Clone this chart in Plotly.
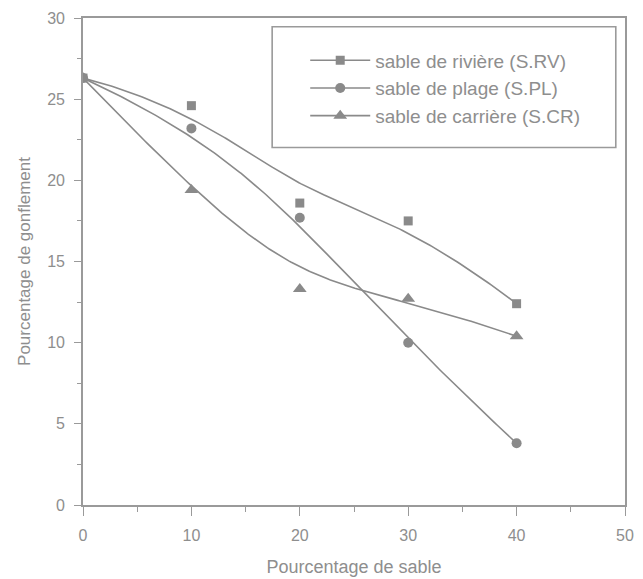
import numpy as np
import plotly.graph_objects as go

# Pourcentage de sable (%)
sable = [0, 10, 20, 30, 40]

# Pourcentage de gonflement par type de sable
riviere = [26.3, 24.6, 18.6, 17.5, 12.4]
plage = [26.3, 23.2, 17.7, 10.0, 3.8]
carriere = [26.3, 19.4, 13.3, 12.7, 10.4]

noms = ["sable de rivière (S.RV)", "sable de plage (S.PL)", "sable de carrière (S.CR)"]
symboles = ["square", "circle", "triangle-up"]
tailles = [9, 10, 12]

GRIS = "#8a8a8a"
TEXTE = "#8e8e8e"
POLICE = "Liberation Sans, Arial, sans-serif"


def bspline(xs, ys, n=200, k=3):
    """Clamped uniform B-spline using the data points as control points."""
    P = np.column_stack([xs, ys]).astype(float)
    m = len(P)
    interior = np.linspace(0, 1, m - k + 1)[1:-1]
    knots = np.concatenate([np.zeros(k + 1), interior, np.ones(k + 1)])
    t = np.linspace(0, 1, n)
    t[-1] = 1 - 1e-12
    # Cox-de Boor recursion
    N = np.zeros((n, len(knots) - 1))
    for i in range(len(knots) - 1):
        N[:, i] = (t >= knots[i]) & (t < knots[i + 1])
    for d in range(1, k + 1):
        Nn = np.zeros((n, len(knots) - 1 - d))
        for i in range(len(knots) - 1 - d):
            a = knots[i + d] - knots[i]
            b = knots[i + d + 1] - knots[i + 1]
            left = (t - knots[i]) / a * N[:, i] if a > 0 else 0
            right = (knots[i + d + 1] - t) / b * N[:, i + 1] if b > 0 else 0
            Nn[:, i] = left + right
        N = Nn
    C = N @ P
    return C[:, 0], C[:, 1]


fig = go.Figure()
for nom, ys, sym, sz in zip(noms, [riviere, plage, carriere], symboles, tailles):
    cx, cy = bspline(sable, ys)
    fig.add_trace(go.Scatter(
        x=cx, y=cy, mode="lines", line=dict(color=GRIS, width=1.6),
        showlegend=False, hoverinfo="skip", legendgroup=nom,
    ))
    fig.add_trace(go.Scatter(
        x=sable, y=ys, mode="markers", name=nom, legendgroup=nom,
        marker=dict(symbol=sym, size=sz, color=GRIS),
        showlegend=False,
    ))
    # legend entry: line + marker
    fig.add_trace(go.Scatter(
        x=[None], y=[None], mode="lines+markers", name=nom, legendgroup=nom,
        line=dict(color=GRIS, width=1.6),
        marker=dict(symbol=sym, size=sz, color=GRIS),
    ))

axe = dict(
    showline=True, linecolor="#9a9a9a", linewidth=1.6, mirror=True,
    ticks="outside", tickwidth=1.3, tickcolor="#9a9a9a",
    showgrid=False, zeroline=False, automargin=False,
    tickfont=dict(family=POLICE, size=16, color=TEXTE),
)

fig.update_layout(
    width=643, height=579,
    margin=dict(l=83, r=18, t=18, b=74),
    paper_bgcolor="white", plot_bgcolor="white",
    font=dict(family=POLICE, color=TEXTE),
    xaxis=dict(
        range=[0, 50], tick0=0, dtick=10, ticklen=9, ticklabelstandoff=6,
        minor=dict(dtick=5, ticks="outside", ticklen=5, tickcolor="#9a9a9a"),
        title=dict(text="Pourcentage de sable", font=dict(family=POLICE, size=18, color=TEXTE), standoff=17),
        **axe,
    ),
    yaxis=dict(
        range=[0, 30], tick0=0, dtick=5, ticklen=7, ticklabelstandoff=6,
        minor=dict(dtick=2.5, ticks="outside", ticklen=4, tickcolor="#9a9a9a"),
        title=dict(text="Pourcentage de gonflement", font=dict(family=POLICE, size=17, color=TEXTE), standoff=12),
        **axe,
    ),
    legend=dict(
        x=0.41, y=0.952, xanchor="left", yanchor="top",
        bgcolor="rgba(0,0,0,0)", borderwidth=0,
        font=dict(family=POLICE, size=19, color=TEXTE),
        tracegroupgap=0, itemwidth=60,
    ),
    shapes=[dict(
        type="rect", xref="paper", yref="paper",
        x0=0.349, x1=0.983, y0=0.734, y1=0.982,
        line=dict(color="#9a9a9a", width=1.6), fillcolor="rgba(0,0,0,0)",
    )],
)

fig.write_html("out.html")
